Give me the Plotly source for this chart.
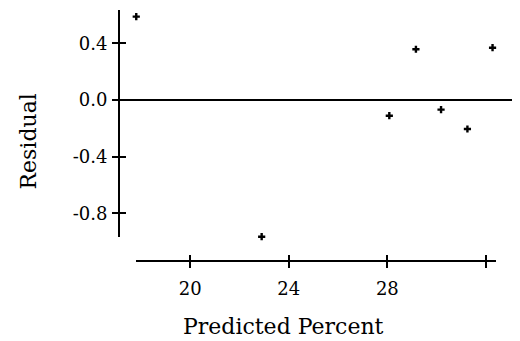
import plotly.graph_objects as go

# Data
predicted = [17.81, 22.90, 28.08, 29.16, 30.18, 31.25, 32.27]
residual = [0.588, -0.965, -0.111, 0.358, -0.068, -0.205, 0.369]

x_tickvals = [20, 24, 28, 32]
x_ticktext = ["20", "24", "28", ""]
y_tickvals = [-0.8, -0.4, 0.0, 0.4]
y_ticktext = ["-0.8", "-0.4", "0.0", "0.4"]

W, H = 520, 341
OFF = 8  # page body margin offset
FONT = "DejaVu Serif"

x_range = [17.80, 32.41]
y_range = [-0.965, 0.635]


def px(v):
    return (v - OFF) / W


def py(v):
    return 1 - (v - OFF) / H


x_dom = [px(136), px(496)]
y_dom = [py(236.7), py(10)]
x_pos = py(260.5)   # x-axis vertical position (paper)
y_pos = px(119)     # y-axis horizontal position (paper)

fig = go.Figure()
fig.add_trace(go.Scatter(
    x=predicted, y=residual, mode="markers",
    marker=dict(symbol="cross", size=6, color="black", line=dict(width=0)),
    cliponaxis=False, showlegend=False, hoverinfo="skip",
))
# invisible trace to instantiate overlay axes for crossing ticks
fig.add_trace(go.Scatter(
    x=predicted, y=residual, mode="markers", xaxis="x2", yaxis="y2",
    marker=dict(opacity=0), showlegend=False, hoverinfo="skip",
))

axis_common = dict(showgrid=False, zeroline=False, tickcolor="black",
                   linecolor="black", automargin=False,
                   tickfont=dict(family=FONT, size=18, color="black"))

fig.update_layout(
    width=W, height=H,
    margin=dict(l=0, r=0, t=0, b=0),
    paper_bgcolor="white", plot_bgcolor="white",
    xaxis=dict(domain=x_dom, range=x_range, anchor="free", position=x_pos,
               showline=True, linewidth=2, ticks="outside", ticklen=6, tickwidth=1.5,
               ticklabelstandoff=6,
               tickvals=x_tickvals, ticktext=x_ticktext, **axis_common),
    xaxis2=dict(domain=x_dom, range=x_range, anchor="free", position=x_pos,
                overlaying="x", showline=False, ticks="inside", ticklen=6, tickwidth=1.5,
                tickvals=x_tickvals, showticklabels=False, **axis_common),
    yaxis=dict(domain=y_dom, range=y_range, anchor="free", position=y_pos,
               showline=True, linewidth=2, ticks="outside", ticklen=6, tickwidth=1.5,
               ticklabelstandoff=1,
               tickvals=y_tickvals, ticktext=y_ticktext, **axis_common),
    yaxis2=dict(domain=y_dom, range=y_range, anchor="free", position=y_pos,
                overlaying="y", showline=False, ticks="inside", ticklen=6, tickwidth=1.5,
                tickvals=y_tickvals, showticklabels=False, **axis_common),
    shapes=[dict(type="line", xref="paper", yref="y", x0=y_pos, x1=1, y0=0, y1=0,
                 line=dict(color="black", width=2))],
    annotations=[
        dict(text="Residual", xref="paper", yref="paper", x=px(28), y=py(141.5),
             textangle=-90, showarrow=False, xanchor="center", yanchor="middle",
             font=dict(family=FONT, size=22, color="black")),
        dict(text="Predicted Percent", xref="paper", yref="paper", x=px(283), y=py(326),
             showarrow=False, xanchor="center", yanchor="middle",
             font=dict(family=FONT, size=22, color="black")),
    ],
)

fig.write_html("out.html")
